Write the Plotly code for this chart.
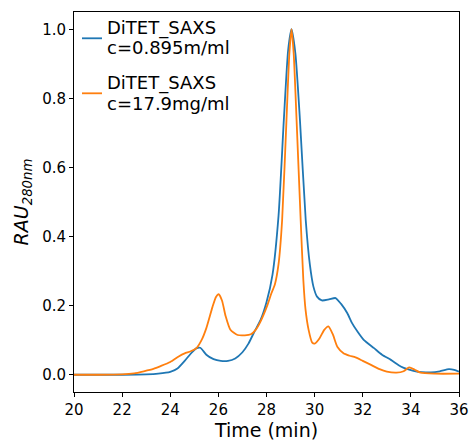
import plotly.graph_objects as go

# Blue series: DiTET_SAXS c=0.895m/ml
time_blue = [20.0, 21.0, 22.0, 23.0, 23.5, 24.0, 24.3, 24.6, 24.9, 25.1, 25.25, 25.5, 25.8,
             26.1, 26.4, 26.7, 27.0, 27.25, 27.5, 27.75, 28.0, 28.25, 28.5, 28.72, 28.9,
             29.04, 29.2, 29.39, 29.63, 29.8, 29.95, 30.1, 30.3, 30.6, 30.87, 31.1, 31.36,
             31.55, 31.78, 32.04, 32.47, 32.8, 33.17, 33.58, 33.86, 34.3, 34.83, 35.2,
             35.58, 35.8, 36.0]
rau_blue = [0.0, 0.0, 0.0, 0.001, 0.003, 0.008, 0.018, 0.040, 0.065, 0.077, 0.078, 0.058, 0.045,
            0.040, 0.040, 0.047, 0.065, 0.090, 0.125, 0.158, 0.210, 0.290, 0.460, 0.737, 0.94,
            1.0, 0.93, 0.737, 0.448, 0.32, 0.255, 0.226, 0.215, 0.218, 0.222, 0.205, 0.178,
            0.150, 0.125, 0.101, 0.077, 0.058, 0.043, 0.024, 0.016, 0.008, 0.007, 0.010,
            0.016, 0.014, 0.009]

# Orange series: DiTET_SAXS c=17.9mg/ml
time_orange = [20.0, 21.0, 22.0, 22.5, 22.9, 23.3, 23.6, 24.0, 24.35, 24.6, 24.85, 25.1, 25.3,
               25.5, 25.75, 25.9, 26.01, 26.15, 26.3, 26.5, 26.8, 27.1, 27.35, 27.55, 27.75,
               28.03, 28.2, 28.35, 28.5, 28.65, 28.83, 28.95, 29.04, 29.13, 29.25, 29.42,
               29.53, 29.62, 29.75, 29.9, 30.0, 30.2, 30.4, 30.57, 30.75, 30.95, 31.2, 31.45,
               31.7, 32.0, 32.3, 32.7, 33.0, 33.4, 33.7, 33.93, 34.15, 34.4, 35.0, 36.0]
rau_orange = [0.0, 0.0, 0.001, 0.004, 0.010, 0.017, 0.025, 0.037, 0.053, 0.062, 0.068, 0.078, 0.100,
              0.135, 0.195, 0.225, 0.233, 0.215, 0.170, 0.130, 0.115, 0.114, 0.117, 0.130, 0.154,
              0.200, 0.235, 0.262, 0.32, 0.448, 0.737, 0.93, 1.0, 0.93, 0.737, 0.448,
              0.275, 0.19, 0.13, 0.093, 0.090, 0.105, 0.130, 0.140, 0.118, 0.080, 0.062, 0.055,
              0.050, 0.040, 0.030, 0.016, 0.009, 0.006, 0.010, 0.021, 0.015, 0.006, 0.003, 0.003]

series_names = ["DiTET_SAXS", "DiTET_SAXS"]
series_conc = ["c=0.895m/ml", "c=17.9mg/ml"]
series_colors = ["#1f77b4", "#ff7f0e"]

x_ticks = [20, 22, 24, 26, 28, 30, 32, 34, 36]
y_ticks = [0.0, 0.2, 0.4, 0.6, 0.8, 1.0]

W, H = 472, 443
ML, MR, MT, MB = 74, 13, 12, 51
PW, PH = W - ML - MR, H - MT - MB


def px_x(px):
    return (px - ML) / PW


def px_y(py):
    return (H - MB - py) / PH


fig = go.Figure()
for t, v, nm, cc, col in [(time_blue, rau_blue, series_names[0], series_conc[0], series_colors[0]),
                          (time_orange, rau_orange, series_names[1], series_conc[1], series_colors[1])]:
    fig.add_trace(go.Scatter(x=t, y=v, mode="lines",
                             line=dict(color=col, width=1.8, shape="spline", smoothing=0.6),
                             name=nm + " " + cc, showlegend=False))

axis_common = dict(showline=True, linecolor="black", linewidth=1, mirror=True,
                   ticks="outside", ticklen=4, tickcolor="black", showgrid=False,
                   zeroline=False, automargin=False,
                   tickfont=dict(family="DejaVu Sans", size=15, color="black"))

# legend drawn in the matplotlib style (short line + two-line label)
legend_rows = [(38.3, 28.3, 48.0), (93.3, 83.5, 103.5)]
shapes = []
annotations = []
for i, (ly, t1, t2) in enumerate(legend_rows):
    shapes.append(dict(type="line", xref="paper", yref="paper",
                       x0=px_x(82), x1=px_x(102), y0=px_y(ly), y1=px_y(ly),
                       line=dict(color=series_colors[i], width=1.8)))
    annotations.append(dict(xref="paper", yref="paper", x=px_x(105), y=px_y(t1),
                            xanchor="left", yanchor="middle", showarrow=False,
                            text=series_names[i], font=dict(size=18, color="black")))
    annotations.append(dict(xref="paper", yref="paper", x=px_x(105), y=px_y(t2),
                            xanchor="left", yanchor="middle", showarrow=False,
                            text=series_conc[i], font=dict(size=18, color="black")))

fig.update_layout(
    width=W, height=H,
    margin=dict(l=ML, r=MR, t=MT, b=MB),
    plot_bgcolor="white", paper_bgcolor="white",
    font=dict(family="DejaVu Sans", color="black"),
    xaxis=dict(range=[20, 36], tickvals=x_ticks, ticktext=[str(v) for v in x_ticks],
               title=dict(text="Time (min)", font=dict(size=19), standoff=2), **axis_common),
    yaxis=dict(range=[-0.05, 1.05], tickvals=y_ticks, ticktext=[f"{v:.1f}" for v in y_ticks],
               title=dict(text="<i>RAU</i><sub><i>280nm</i></sub>", font=dict(size=19), standoff=8),
               **axis_common),
    shapes=shapes,
    annotations=annotations,
    showlegend=False,
)

fig.write_html("out.html",
               config={"displayModeBar": False},
               post_script="document.body.style.margin='0';document.body.style.overflow='hidden';")
